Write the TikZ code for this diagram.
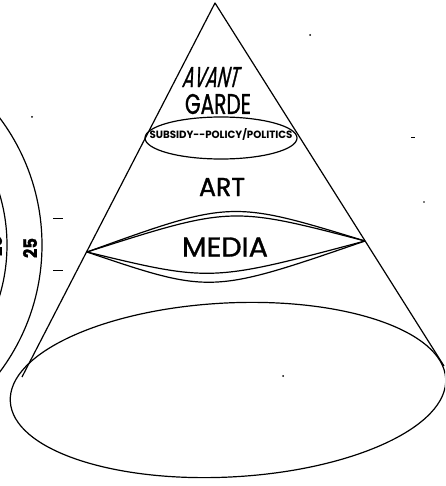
\documentclass[tikz,border=0pt]{standalone}
\usepackage{fontspec}
\setmainfont{Poppins}
\newfontfamily\heavyfont[FakeBold=1.2]{Poppins}
\usepackage{graphicx}
\begin{document}
\begin{tikzpicture}[x=1pt,y=-1pt,line width=1.2pt,line join=round,
  lbl/.style={inner sep=0pt,outer sep=0pt,font=\heavyfont},
  speck/.style={fill=black,draw=none},
  tick/.style={line width=0.9pt}]
\clip (0,0) rectangle (445,486);
% cone
\coordinate (apex) at (215,3);
\coordinate (baseL) at (22,377);
\coordinate (baseR) at (444,366);
\coordinate (mL) at (87,252);
\coordinate (mR) at (365,241);
\draw (baseL) -- (apex) -- (baseR);
% base ellipse
\draw[rotate around={3:(228,390)}] (228,390) ellipse [x radius=218pt,y radius=87pt];
% subsidy ellipse
\draw (221,138) ellipse [x radius=76pt,y radius=21pt];
% media lens (double lines)
\draw (mL) .. controls (231,200) .. (mR);
\draw (mL) .. controls (231,206) .. (mR);
\draw (mL) .. controls (211,282) .. (mR);
\draw (mL) .. controls (211,294) .. (mR);
% left rings
\draw (-170,245) circle [radius=212pt];
\draw (-170,245) circle [radius=177pt];
\node[lbl,rotate=90] (n25) at (30,248) {\resizebox{20pt}{14pt}{\bfseries 25}};
\node[lbl,rotate=90] (n25b) at (-5,246) {\resizebox{20pt}{14pt}{\bfseries 25}};
\draw[tick] (53,218) -- (63,218);
\draw[tick] (53,270) -- (63,270);
% labels
\node[lbl,xslant=0.25,transform shape] (avant) at (212,77) {\resizebox{56pt}{20pt}{AVANT}};
\node[lbl] (garde) at (218,104) {\resizebox{66pt}{20pt}{GARDE}};
\node[lbl,font=\rmfamily] (subsidy) at (221,134) {\resizebox{143pt}{10pt}{\bfseries SUBSIDY-{}-POLICY/POLITICS}};
\node[lbl] (art) at (222,187) {\resizebox{46pt}{18pt}{ART}};
\node[lbl] (media) at (225,247) {\resizebox{86pt}{19pt}{MEDIA}};
% scanning specks
\fill[speck] (310,35) circle [radius=1pt];
\fill[speck] (32,117) circle [radius=1pt];
\fill[speck] (424,202) circle [radius=0.8pt];
\fill[speck] (283,376) circle [radius=1pt];
\draw[line width=0.8pt] (411,137) -- (415,137);
\end{tikzpicture}
\end{document}
